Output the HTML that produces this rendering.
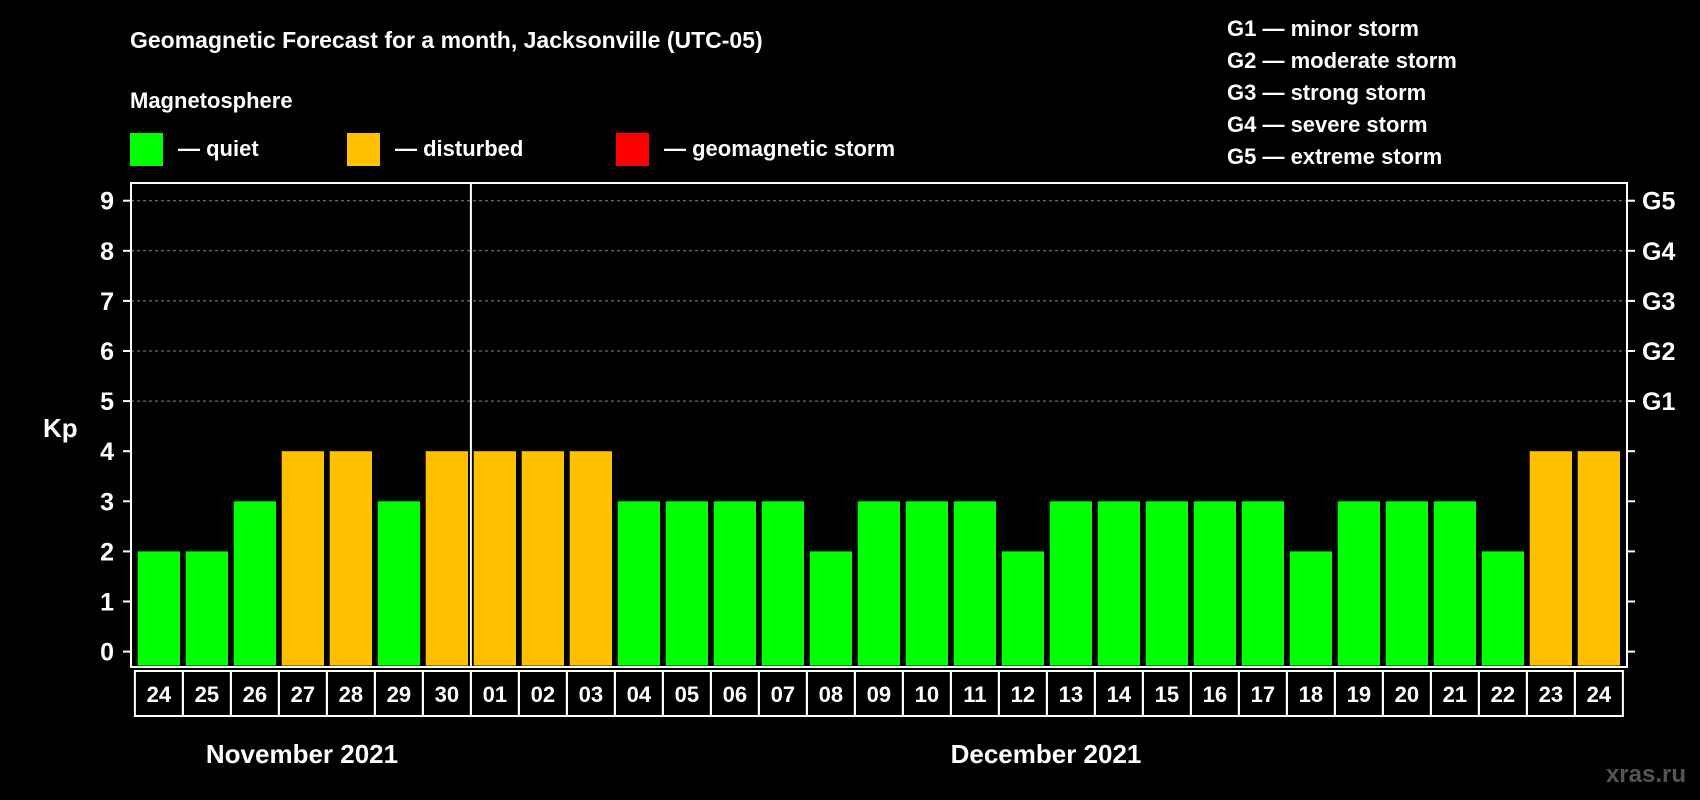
<!DOCTYPE html>
<html><head><meta charset="utf-8"><style>
body{margin:0;background:#000;width:1700px;height:800px;overflow:hidden}
svg{display:block;font-family:"Liberation Sans",Arial,sans-serif;font-weight:bold}
</style></head><body>
<svg id="chart" width="1700" height="800" viewBox="0 0 1700 800">
<text x="130" y="48" fill="#fff" font-size="23">Geomagnetic Forecast for a month, Jacksonville (UTC-05)</text>
<text x="130" y="108" fill="#fff" font-size="22">Magnetosphere</text>
<rect x="130" y="133" width="33" height="33" fill="#00ff00"/>
<text x="178" y="156" fill="#fff" font-size="22">— quiet</text>
<rect x="347" y="133" width="33" height="33" fill="#ffc000"/>
<text x="395" y="156" fill="#fff" font-size="22">— disturbed</text>
<rect x="616" y="133" width="33" height="33" fill="#ff0000"/>
<text x="664" y="156" fill="#fff" font-size="22">— geomagnetic storm</text>
<g font-size="22" fill="#fff">
<text x="1227" y="36">G1 — minor storm</text>
<text x="1227" y="68">G2 — moderate storm</text>
<text x="1227" y="100">G3 — strong storm</text>
<text x="1227" y="132">G4 — severe storm</text>
<text x="1227" y="164">G5 — extreme storm</text>
</g>
<text x="43" y="437" fill="#fff" font-size="26">Kp</text>
<text x="302" y="763" fill="#fff" font-size="26" text-anchor="middle">November 2021</text>
<text x="1046" y="763" fill="#fff" font-size="26" text-anchor="middle">December 2021</text>
<text x="1686" y="782" fill="#555" font-size="24" text-anchor="end">xras.ru</text>
<g id="grid"></g><g id="bars"></g><g id="axes"></g>
</svg>
<script>
const days=["24","25","26","27","28","29","30","01","02","03","04","05","06","07","08","09","10","11","12","13","14","15","16","17","18","19","20","21","22","23","24"];
const kp=[2,2,3,4,4,3,4,4,4,4,3,3,3,3,2,3,3,3,2,3,3,3,3,3,2,3,3,3,2,4,4];
const yTicks=[0,1,2,3,4,5,6,7,8,9];
const gLabels=["G1","G2","G3","G4","G5"];
const NS="http://www.w3.org/2000/svg";
const L=131,R=1627,T=183,B=667,y0=651.6,unit=50.1,x0=137.7,pitch=48.0,bw=42.3;
const y=v=>y0-v*unit, x=i=>x0+i*pitch;
function mk(tag,attrs,parent){const e=document.createElementNS(NS,tag);for(const k in attrs)e.setAttribute(k,attrs[k]);parent.appendChild(e);return e;}
const grid=document.getElementById('grid'),bars=document.getElementById('bars'),axes=document.getElementById('axes');
yTicks.forEach(v=>{
 if(v>=5){const l=mk('line',{x1:L,x2:R,y1:y(v),y2:y(v),stroke:'#888','stroke-dasharray':'3,3','stroke-width':1},grid);
 
 }
 const t=mk('line',{x1:L-8,x2:L,y1:y(v),y2:y(v),stroke:'#fff','stroke-width':2},axes);
 
 
 const t2=mk('line',{x1:R,x2:R+8,y1:y(v),y2:y(v),stroke:'#fff','stroke-width':2},axes);
 
 
 const tx=mk('text',{x:114,y:y(v)+9,fill:'#fff','font-size':25,'text-anchor':'end'},axes);tx.textContent=v;
 
 
});
gLabels.forEach((g,i)=>{const tx=mk('text',{x:1642,y:y(5+i)+9,fill:'#fff','font-size':25},axes);tx.textContent=g;
 
 });
kp.forEach((v,i)=>{
 const c=v>=5?'#ff0000':(v>=4?'#ffc000':'#00ff00');
 const r=mk('rect',{x:x(i),y:y(v),width:bw,height:y(0)-y(v)+14,fill:c},bars);
 
 
 const cell=mk('rect',{x:x(i)-2.8,y:671,width:pitch,height:45,fill:'none',stroke:'#fff','stroke-width':2},axes);
 
 
 const tx=mk('text',{x:x(i)+bw/2,y:702,fill:'#fff','font-size':22,'text-anchor':'middle'},axes);tx.textContent=days[i];
 
 
});
const box=mk('rect',{x:L,y:T,width:R-L,height:B-T,fill:'none',stroke:'#fff','stroke-width':2},axes);


const sx=x(7)-2.8;
const sep=mk('line',{x1:sx,x2:sx,y1:T,y2:B,stroke:'#fff','stroke-width':2},axes);


</script>
</body></html>
